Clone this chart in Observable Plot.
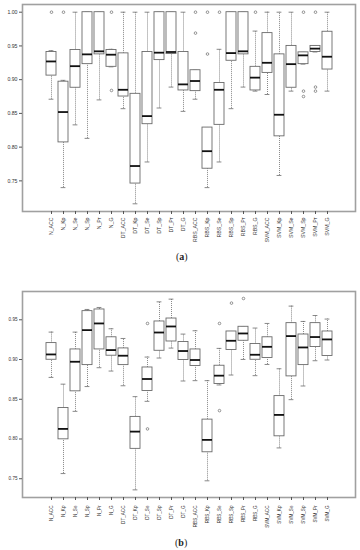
<!DOCTYPE html>
<html><head><meta charset="utf-8">
<script src="https://cdn.jsdelivr.net/npm/d3@7"></script>
<script src="https://cdn.jsdelivr.net/npm/@observablehq/plot@0.6"></script>
<style>
body{margin:0;background:#fff;}
#wrap{position:relative;width:360px;height:550px;overflow:hidden;}
.pan{position:absolute;left:0;}
.cap{position:absolute;font-family:"Liberation Serif",serif;font-size:10px;color:#222;}
.cap b{font-weight:bold;}
</style></head>
<body>
<div id="wrap">
  <div id="pa" class="pan" style="top:0px"></div>
  <div class="cap" style="top:251px;left:176px">(<b>a</b>)</div>
  <div id="pb" class="pan" style="top:266px"></div>
  <div class="cap" style="top:537px;left:175px">(<b>b</b>)</div>
</div>
<script>
const cats = ["N_ACC","N_Kp","N_Se","N_Sp","N_Pr","N_G","DT_ACC","DT_Kp","DT_Se","DT_Sp","DT_Pr","DT_G",
  "RBS_ACC","RBS_Kp","RBS_Se","RBS_Sp","RBS_Pr","RBS_G","SVM_ACC","SVM_Kp","SVM_Se","SVM_Sp","SVM_Pr","SVM_G"];
const yTicks = [0.75,0.80,0.85,0.90,0.95,1.00];

// Panel (a)
const aLow  = [0.871,0.740,0.833,0.813,0.870,0.919,0.857,0.716,0.778,0.858,0.889,0.853,0.871,0.740,0.778,0.857,0.889,0.883,0.878,0.758,0.883,0.923,0.941,0.883];
const aQ1   = [0.906,0.807,0.888,0.923,0.9375,0.919,0.875,0.746,0.834,0.929,0.938,0.884,0.883,0.768,0.833,0.928,0.9375,0.884,0.910,0.816,0.888,0.923,0.941,0.915];
const aMed  = [0.927,0.852,0.920,0.9375,0.942,0.937,0.885,0.772,0.846,0.940,0.941,0.893,0.898,0.794,0.885,0.9394,0.942,0.903,0.925,0.848,0.923,0.936,0.946,0.934];
const aQ3   = [0.941,0.897,0.944,1.00,1.00,0.944,0.939,0.879,0.941,1.00,1.00,0.941,0.914,0.829,0.895,1.00,1.00,0.919,0.969,0.9375,0.950,0.9405,0.950,0.971];
const aHigh = [0.943,0.899,1.00,1.00,1.00,0.945,1.00,1.00,1.00,1.00,1.00,1.00,0.914,0.829,0.945,1.00,1.00,0.972,1.00,1.00,1.00,0.9405,0.950,1.00];
const aOut  = [[1.00],[1.00],[],[],[],[1.00,0.884],[],[],[],[],[],[],[1.00,0.969],[1.00,0.938],[1.00],[],[],[1.00],[],[],[],[1.00,0.883,0.875],[1.00,0.889,0.883],[]];
const aDomain = [0.7046,1.0114];

// Panel (b)
const bLow  = [0.8775,0.7565,0.8348,0.866,0.8897,0.8855,0.867,0.736,0.8474,0.9019,0.9144,0.873,0.8734,0.7474,0.868,0.8805,0.9001,0.8797,0.8938,0.7888,0.8495,0.8667,0.8985,0.8994];
const bQ1   = [0.8997,0.7996,0.860,0.893,0.9127,0.9048,0.893,0.7876,0.8604,0.911,0.9227,0.8994,0.8918,0.7833,0.8692,0.912,0.9236,0.8997,0.9019,0.8034,0.8788,0.893,0.9157,0.9044];
const bMed  = [0.9064,0.8127,0.8972,0.937,0.9454,0.9119,0.9048,0.8093,0.8755,0.934,0.9416,0.9107,0.8994,0.7989,0.8797,0.9236,0.9328,0.906,0.916,0.8303,0.9295,0.9152,0.9283,0.9253];
const bQ3   = [0.9207,0.839,0.9127,0.9609,0.963,0.928,0.914,0.8278,0.890,0.9479,0.9516,0.922,0.9127,0.8244,0.8922,0.9353,0.9412,0.9195,0.928,0.854,0.9458,0.9315,0.9458,0.9353];
const bHigh = [0.9345,0.869,0.9345,0.963,0.9655,0.9387,0.9265,0.8533,0.9031,0.9726,0.976,0.932,0.9362,0.8734,0.914,0.9353,0.9412,0.9396,0.9454,0.8884,0.9672,0.9479,0.9554,0.9509];
const bOut  = [[],[],[],[],[],[],[],[],[0.9454,0.8127],[],[],[],[],[],[0.9454,0.8357],[0.971],[0.9768],[],[],[],[],[],[],[]];
const bDomain = [0.7264,0.9856];

function panel(low,q1,med,q3,high,outs,domain,opts){
  const data = cats.map((c,i)=>({c,low:low[i],q1:q1[i],med:med[i],q3:q3[i],high:high[i]}));
  const outData = [];
  outs.forEach((arr,i)=>arr.forEach(v=>outData.push({c:cats[i],v})));
  const boxStroke = "#6a6a6a";
  const fs = opts.fontSize;
  return Plot.plot({
    width:360, height:opts.height,
    marginLeft:22, marginRight:5, marginTop:opts.marginTop, marginBottom:opts.marginBottom,
    style:{fontFamily:"'Liberation Sans',Arial,sans-serif", fontSize:fs+"px", background:"white", color:"#333"},
    x:{type:"band", domain:cats, paddingInner:0.2, paddingOuter:1.06},
    y:{domain:domain},
    marks:[
      Plot.ruleX(data,{x:"c", y1:"q3", y2:"high", stroke:boxStroke, strokeWidth:0.8, strokeDasharray:"1,1"}),
      Plot.ruleX(data,{x:"c", y1:"low", y2:"q1", stroke:boxStroke, strokeWidth:0.8, strokeDasharray:"1,1"}),
      Plot.tickY(data,{x:"c", y:"high", stroke:boxStroke, strokeWidth:0.8, inset:2.6}),
      Plot.tickY(data,{x:"c", y:"low", stroke:boxStroke, strokeWidth:0.8, inset:2.6}),
      Plot.barY(data,{x:"c", y1:"q1", y2:"q3", fill:"white", stroke:boxStroke, strokeWidth:0.9, inset:0}),
      Plot.tickY(data,{x:"c", y:"med", stroke:"#111", strokeWidth:1.8}),
      Plot.dot(outData,{x:"c", y:"v", r:1.3, stroke:boxStroke, strokeWidth:0.7, fill:"none"}),
      Plot.frame({stroke:"#a0a0a0", strokeWidth:1.6}),
      Plot.axisX({tickSize:3, tickRotate:-90, tickPadding:opts.xPad, label:null, stroke:"#555", fontSize:fs}),
      Plot.axisY(yTicks.filter(t=>t>=domain[0]&&t<=domain[1]),{tickSize:3, tickPadding:2, tickFormat:d3.format(".2f"), label:null, stroke:"#555", fontSize:fs})
    ]
  });
}

document.getElementById("pa").appendChild(panel(aLow,aQ1,aMed,aQ3,aHigh,aOut,aDomain,{height:246,marginTop:4,marginBottom:35,fontSize:5.2,xPad:3}));
document.getElementById("pb").appendChild(panel(bLow,bQ1,bMed,bQ3,bHigh,bOut,bDomain,{height:262,marginTop:25,marginBottom:31,fontSize:4.6,xPad:5}));
</script>
</body></html>
